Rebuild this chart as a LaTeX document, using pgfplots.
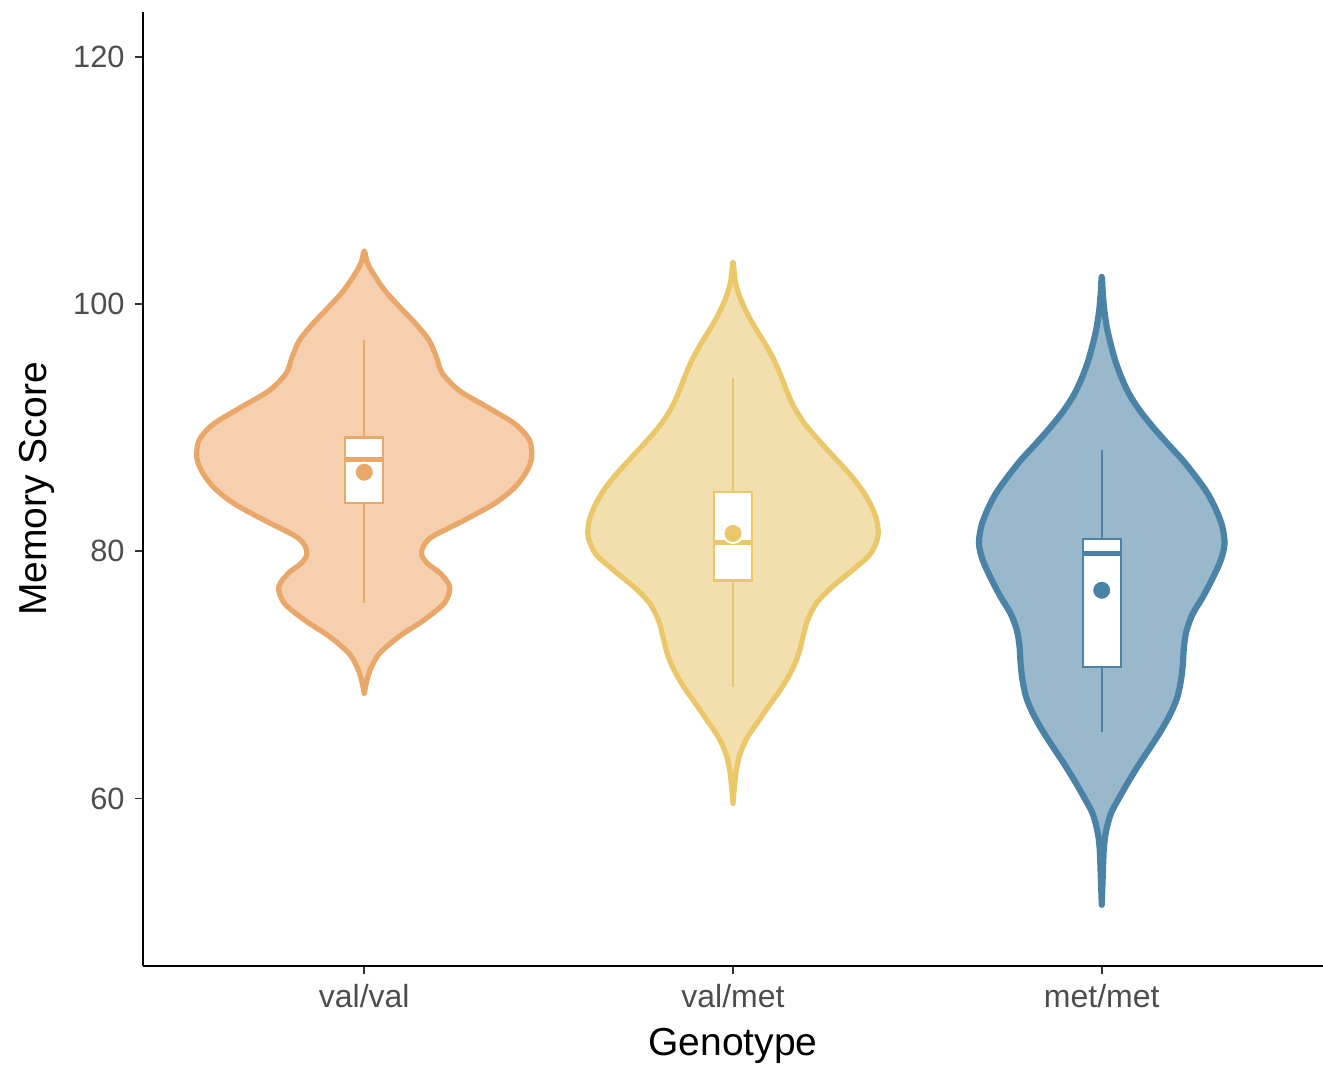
\documentclass[border=0pt]{standalone}
\usepackage{fontspec}
\setmainfont{Liberation Sans}
\usepackage{pgfplots}
\pgfplotsset{compat=1.18}
\usepackage{pgfplotstable}
\definecolor{cA}{HTML}{EAA76A}
\definecolor{cAf}{HTML}{F5CFAE}
\definecolor{cB}{HTML}{EAC768}
\definecolor{cBf}{HTML}{F2DFAD}
\definecolor{cC}{HTML}{4A83A5}
\definecolor{cCf}{HTML}{99B8CB}
\definecolor{tickgray}{HTML}{4D4D4D}

% violin outlines: y, signed half-width (right side up, left side down)
\pgfplotstableread{
y w
68.5 0
69.4 0.006
70.4 0.016
71.7 0.040
73.1 0.094
74.4 0.160
75.8 0.217
77.1 0.232
78.2 0.207
79.0 0.172
79.7 0.156
80.4 0.160
81.2 0.185
82.5 0.270
83.9 0.355
85.2 0.409
86.5 0.441
87.6 0.454
89.0 0.448
90.3 0.409
91.7 0.332
93.0 0.258
94.4 0.212
95.7 0.196
97.06 0.176
98.4 0.140
99.75 0.097
101.1 0.056
102.5 0.024
103.4 0.008
104.3 0
103.4 -0.008
102.5 -0.024
101.1 -0.056
99.75 -0.097
98.4 -0.140
97.06 -0.176
95.7 -0.196
94.4 -0.212
93.0 -0.258
91.7 -0.332
90.3 -0.409
89.0 -0.448
87.6 -0.454
86.5 -0.441
85.2 -0.409
83.9 -0.355
82.5 -0.270
81.2 -0.185
80.4 -0.160
79.7 -0.156
79.0 -0.172
78.2 -0.207
77.1 -0.232
75.8 -0.217
74.4 -0.160
73.1 -0.094
71.7 -0.040
70.4 -0.016
69.4 -0.006
68.5 0
}\vone

\pgfplotstableread{
y w
59.6 0
61.3 0.005
62.3 0.009
63.6 0.019
65.0 0.040
66.3 0.070
67.7 0.102
69.0 0.133
70.4 0.160
71.7 0.178
73.1 0.190
74.4 0.202
75.8 0.226
77.1 0.268
78.5 0.325
79.8 0.373
81.2 0.393
82.5 0.390
83.8 0.373
85.1 0.347
86.4 0.312
87.7 0.272
89.0 0.232
90.3 0.195
91.6 0.167
92.9 0.147
94.2 0.130
95.5 0.111
96.8 0.087
98.1 0.060
99.4 0.036
100.7 0.017
101.9 0.006
103.4 0
101.9 -0.006
100.7 -0.017
99.4 -0.036
98.1 -0.060
96.8 -0.087
95.5 -0.111
94.2 -0.130
92.9 -0.147
91.6 -0.167
90.3 -0.195
89.0 -0.232
87.7 -0.272
86.4 -0.312
85.1 -0.347
83.8 -0.373
82.5 -0.390
81.2 -0.393
79.8 -0.373
78.5 -0.325
77.1 -0.268
75.8 -0.226
74.4 -0.202
73.1 -0.190
71.7 -0.178
70.4 -0.160
69.0 -0.133
67.7 -0.102
66.3 -0.070
65.0 -0.040
63.6 -0.019
62.3 -0.009
61.3 -0.005
59.6 0
}\vtwo

\pgfplotstableread{
y w
51.4 0
54.0 0.003
56.1 0.006
57.4 0.012
58.8 0.025
60.1 0.048
61.5 0.075
62.8 0.102
64.2 0.133
65.5 0.161
66.9 0.187
68.2 0.205
69.6 0.215
70.9 0.220
72.3 0.223
73.6 0.230
74.96 0.247
76.3 0.274
77.9 0.302
79.3 0.323
80.6 0.333
82.0 0.327
83.3 0.311
84.7 0.287
86.0 0.256
87.4 0.219
88.7 0.179
90.05 0.139
91.4 0.103
92.75 0.074
94.1 0.053
95.4 0.037
96.8 0.024
98.1 0.014
99.5 0.007
100.8 0.003
102.2 0
100.8 -0.003
99.5 -0.007
98.1 -0.014
96.8 -0.024
95.4 -0.037
94.1 -0.053
92.75 -0.074
91.4 -0.103
90.05 -0.139
88.7 -0.179
87.4 -0.219
86.0 -0.256
84.7 -0.287
83.3 -0.311
82.0 -0.327
80.6 -0.333
79.3 -0.323
77.9 -0.302
76.3 -0.274
74.96 -0.247
73.6 -0.230
72.3 -0.223
70.9 -0.220
69.6 -0.215
68.2 -0.205
66.9 -0.187
65.5 -0.161
64.2 -0.133
62.8 -0.102
61.5 -0.075
60.1 -0.048
58.8 -0.025
57.4 -0.012
56.1 -0.006
54.0 -0.003
51.4 0
}\vthree

\begin{document}
\begin{tikzpicture}
\begin{axis}[
  width=590pt, height=477pt, scale only axis,
  xmin=0.4, xmax=3.6, ymin=46.45, ymax=123.64,
  axis x line=bottom, axis y line=left,
  axis line style={line width=1.2pt, black, -},
  xtick={1,2,3}, xticklabels={val/val,val/met,met/met},
  ytick={60,80,100,120},
  tick align=outside, major tick length=4pt,
  tick style={line width=0.9pt, color=black!80},
  /pgf/number format/assume math mode=true,
  xticklabel style={font=\fontsize{16}{19}\selectfont, text=tickgray, anchor=base, yshift=-17pt},
  yticklabel style={font=\fontsize{15.4}{18}\selectfont, text=tickgray, anchor=east, inner sep=0pt, xshift=-5pt},
  xlabel={Genotype}, ylabel={Memory Score},
  xlabel style={font=\fontsize{19.5}{23}\selectfont, at={(axis description cs:0.5,-0.0835)}, anchor=center},
  ylabel style={font=\fontsize{19.5}{23}\selectfont, at={(axis description cs:-0.090,0.5)}, anchor=center},
]
% violins
\addplot[fill=cAf, draw=cA, line width=2.6pt, line join=round, line cap=round, smooth, tension=0.5] table[x expr=1+\thisrow{w}, y=y]{\vone};
\addplot[fill=cBf, draw=cB, line width=2.6pt, line join=round, line cap=round, smooth, tension=0.5] table[x expr=2+\thisrow{w}, y=y]{\vtwo};
\addplot[fill=cCf, draw=cC, line width=3.1pt, line join=round, line cap=round, smooth, tension=0.5] table[x expr=3+\thisrow{w}, y=y]{\vthree};

% whiskers
\addplot[cA, line width=1pt] coordinates {(1,75.8) (1,83.9)};
\addplot[cA, line width=1pt] coordinates {(1,89.2) (1,97.1)};
\addplot[cB, line width=1pt] coordinates {(2,69.0) (2,77.65)};
\addplot[cB, line width=1pt] coordinates {(2,84.8) (2,94.0)};
\addplot[cC, line width=1pt] coordinates {(3,65.4) (3,70.65)};
\addplot[cC, line width=1pt] coordinates {(3,81.0) (3,88.2)};
% boxes
\addplot[cA, fill=white, line width=1.2pt] coordinates {(0.9485,83.9) (1.0515,83.9) (1.0515,89.2) (0.9485,89.2)} -- cycle;
\addplot[cB, fill=white, line width=1.2pt] coordinates {(1.9485,77.65) (2.0515,77.65) (2.0515,84.8) (1.9485,84.8)} -- cycle;
\addplot[cC, fill=white, line width=1.2pt] coordinates {(2.9485,70.65) (3.0515,70.65) (3.0515,81.0) (2.9485,81.0)} -- cycle;
% medians
\addplot[cA, line width=2.5pt] coordinates {(0.9485,87.4) (1.0515,87.4)};
\addplot[cB, line width=2.5pt] coordinates {(1.9485,80.75) (2.0515,80.75)};
\addplot[cC, line width=2.5pt] coordinates {(2.9485,79.8) (3.0515,79.8)};

% means
\addplot[only marks, mark=*, mark size=4.8pt, mark options={fill=cA, draw=white, line width=1pt}] coordinates {(1,86.4)};
\addplot[only marks, mark=*, mark size=4.8pt, mark options={fill=cB, draw=white, line width=1pt}] coordinates {(2,81.45)};
\addplot[only marks, mark=*, mark size=4.8pt, mark options={fill=cC, draw=white, line width=1pt}] coordinates {(3,76.85)};
\end{axis}
\pgfresetboundingbox
\path[use as bounding box] ([shift={(-71.5pt,-52pt)}]current axis.south west) rectangle ([shift={(0pt,6pt)}]current axis.north east);
\end{tikzpicture}
\end{document}
